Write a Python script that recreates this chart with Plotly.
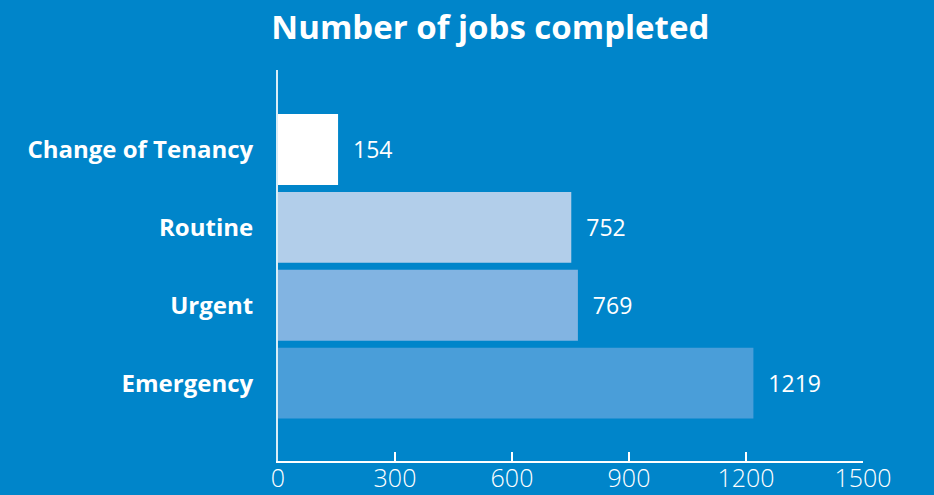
import plotly.graph_objects as go

categories = ["Emergency", "Urgent", "Routine", "Change of Tenancy"]
values = [1219, 769, 752, 154]
bar_colors = ["#4A9ED9", "#82B4E2", "#B2CEEA", "#FFFFFF"]
x_ticks = [0, 300, 600, 900, 1200, 1500]

BG = "#0085CA"
FONT = "Open Sans"

fig = go.Figure(
    go.Bar(
        x=values,
        y=categories,
        orientation="h",
        marker=dict(color=bar_colors, line=dict(width=0)),
        text=[str(v) for v in values],
        texttemplate="  %{text}",
        textposition="outside",
        textfont=dict(family=FONT, size=23, color="white"),
        cliponaxis=False,
    )
)

fig.update_layout(
    width=934,
    height=495,
    paper_bgcolor=BG,
    plot_bgcolor=BG,
    margin=dict(l=278, r=71, t=70, b=34),
    bargap=0.09,
    showlegend=False,
    title=dict(
        text="<b>Number of jobs completed</b>",
        font=dict(family=FONT, size=33, color="white"),
        x=0.525,
        xref="container",
        xanchor="center",
        y=1 - 27 / 495,
        yref="container",
        yanchor="middle",
    ),
)

fig.update_xaxes(
    range=[0, 1500],
    tickvals=x_ticks,
    ticktext=[str(t) for t in x_ticks],
    showgrid=False,
    zeroline=False,
    showline=True,
    linecolor="white",
    linewidth=2,
    ticks="inside",
    ticklen=9,
    tickwidth=1.5,
    tickcolor="white",
    automargin=False,
    ticklabelstandoff=-6,
    tickfont=dict(family=FONT, size=25, color="white", weight=300),
)

fig.update_yaxes(
    range=[-1, 4.02],
    showgrid=False,
    zeroline=False,
    showline=True,
    linecolor="rgba(255,255,255,0.85)",
    linewidth=2,
    ticks="",
    automargin=False,
    ticklabelstandoff=18,
    tickfont=dict(family=FONT, size=24, color="white", weight="bold"),
)

fig.write_html("out.html")
